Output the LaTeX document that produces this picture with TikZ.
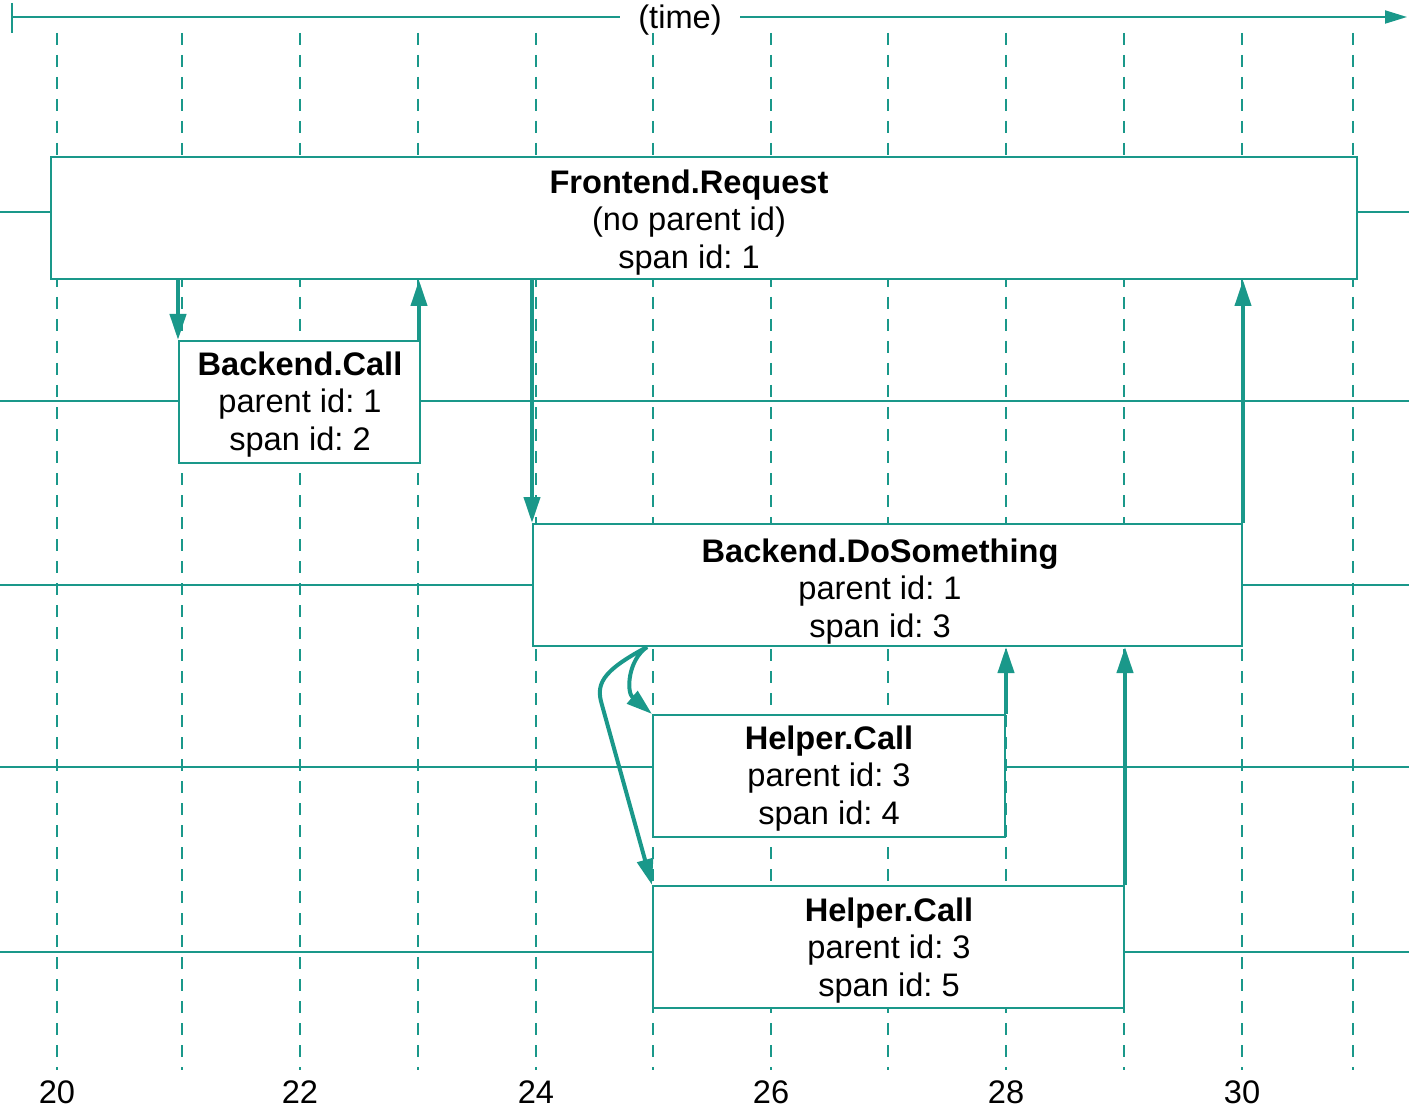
\documentclass[tikz,border=0pt]{standalone}
\usepackage{fontspec}
\setmainfont{Liberation Sans}
\usetikzlibrary{arrows.meta}
\definecolor{teal1}{RGB}{26,152,138}
\frenchspacing
\begin{document}
\begin{tikzpicture}[x=1pt,y=-1pt,
  grid/.style={teal1,line width=1.4pt,dash pattern=on 12pt off 10pt},
  lane/.style={teal1,line width=1.8pt},
  spanbox/.style={draw=teal1,line width=2pt,fill=white,inner sep=0pt,minimum height=122pt},
  spantext/.style={align=center,inner sep=0pt,font=\fontsize{32.6}{37.5}\selectfont},
  num/.style={inner sep=0pt,font=\fontsize{32.6}{37.5}\selectfont},
  arr/.style={teal1,line width=4pt,-{Triangle[length=26pt,width=16pt]}},
  axis/.style={teal1,line width=2pt}
]
\useasboundingbox (0,0) rectangle (1409,1115);
% time axis
\coordinate (ta) at (12,17);
\coordinate (tb) at (1407,17);
\draw[axis] (12,3) -- (12,33);
\draw[axis,-{Triangle[length=22pt,width=13pt]}] (ta) -- (tb);
\node[num,fill=white,inner xsep=18pt,inner ysep=4pt] (time) at (680,20) {(time)};
% grid lines
\foreach \x in {57,182,300,418,536,653,771,888,1006,1124,1242,1353}
  \draw[grid] (\x,33) -- (\x,1070);
% lanes
\foreach \y in {212,401,585,767,952}
  \draw[lane] (0,\y) -- (1409,\y);
% boxes
\node[spanbox,minimum width=1306pt] (fr) at (704,218) {};
\node[spanbox,minimum width=241pt] (bc) at (299.5,402) {};
\node[spanbox,minimum width=709pt] (ds) at (887.5,585) {};
\node[spanbox,minimum width=352pt] (h1) at (829,776) {};
\node[spanbox,minimum width=471pt] (h2) at (888.5,947) {};
% texts
\node[spantext] (frt) at (689,222.5) {\textbf{Frontend.Request}\\(no parent id)\\span id: 1};
\node[spantext] (bct) at (300,404.5) {\textbf{Backend.Call}\\parent id: 1\\span id: 2};
\node[spantext] (dst) at (880,591.5) {\textbf{Backend.DoSomething}\\parent id: 1\\span id: 3};
\node[spantext] (h1t) at (829,778.5) {\textbf{Helper.Call}\\parent id: 3\\span id: 4};
\node[spantext] (h2t) at (889,950.5) {\textbf{Helper.Call}\\parent id: 3\\span id: 5};
% axis numbers
\node[num] (n20) at (57,1092) {20};
\node[num] (n22) at (300,1092) {22};
\node[num] (n24) at (536,1092) {24};
\node[num] (n26) at (771,1092) {26};
\node[num] (n28) at (1006,1092) {28};
\node[num] (n30) at (1242,1092) {30};
% arrows
\draw[arr] (bc.north west |- fr.south) -- (bc.north west);
\draw[arr] ([xshift=-2pt]bc.north east) -- ([xshift=-2pt]bc.north east |- fr.south);
\draw[arr] (ds.north west |- fr.south) -- (ds.north west);
\draw[arr] (ds.north east) -- (ds.north east |- fr.south);
\draw[arr] (h1.north east) -- (h1.north east |- ds.south);
\draw[arr] (h2.north east) -- (h2.north east |- ds.south);
\coordinate (cs) at ([xshift=115pt]ds.south west);
\draw[arr] (cs) .. controls (628,660) and (626,692) .. (h1.north west);
\draw[arr] (cs) .. controls (600,672) and (596,685) .. (602,705) -- (h2.north west);
\end{tikzpicture}
\end{document}
